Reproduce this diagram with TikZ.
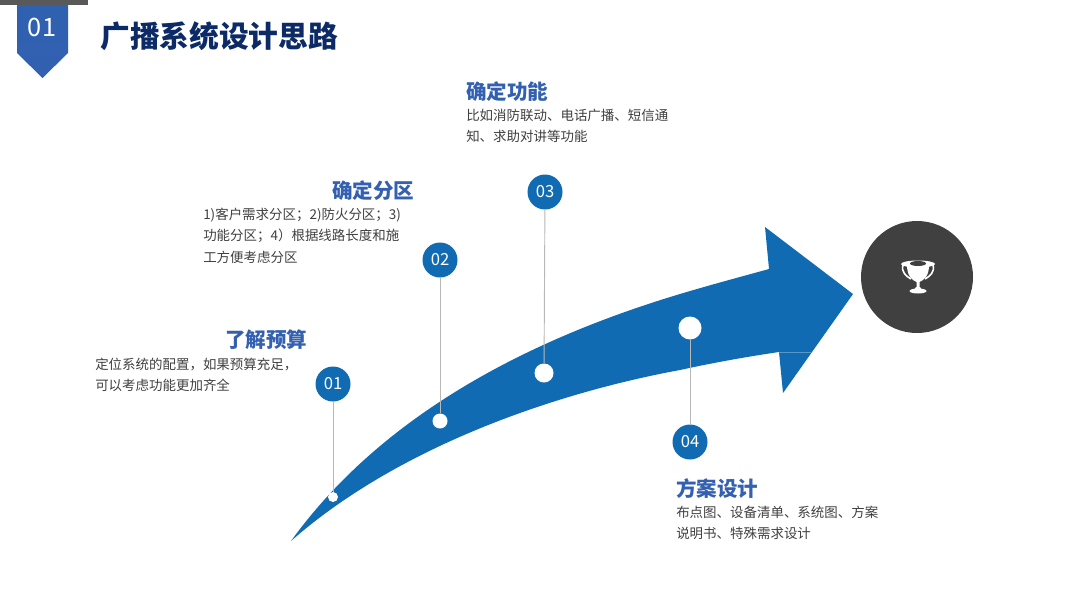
\documentclass[tikz,border=0pt]{standalone}
\usepackage{fontspec}
\usepackage{xcolor}
\setmainfont{Noto Sans CJK SC}
\usetikzlibrary{positioning, calc}

\definecolor{arrowblue}{HTML}{116BB2}
\definecolor{headblue}{HTML}{3360B0}
\definecolor{titlenavy}{HTML}{0B2A66}
\definecolor{bodygray}{HTML}{404040}
\definecolor{cupgray}{HTML}{404040}

\begin{document}
\begin{tikzpicture}[
    x=0.75pt, y=-0.75pt,
    badge/.style={circle, fill=arrowblue, text=white, minimum size=26.25pt, inner sep=0pt, font=\fontsize{12.5pt}{14pt}\selectfont},
    dot/.style={circle, fill=white, inner sep=0pt},
    heading/.style={anchor=west, inner sep=0pt, text=headblue, font=\fontsize{15.4pt}{18pt}\selectfont\bfseries},
    body/.style={anchor=north west, inner sep=0pt, align=left, text=bodygray, font=\fontsize{10.1pt}{15.9pt}\selectfont},
    stem/.style={draw=black!28, line width=0.7pt}
]
\useasboundingbox (0,0) rectangle (1080,608);
\fill[white] (0,0) rectangle (1080,608);

% header
\fill[black!65] (0,0) rectangle (88,5);
\path[top color=headblue!85!arrowblue, bottom color=headblue] (17,5) -- (68,5) -- (68,53) -- (42.5,78) -- (17,53) -- cycle;
\node[text=white, inner sep=0pt, font=\fontsize{19pt}{22pt}\selectfont] (num) at (42,27) {01};
\node[anchor=west, inner sep=0pt, text=titlenavy, font=\fontsize{22.3pt}{26pt}\selectfont\bfseries] (title) at (100,36) {广播系统设计思路};

% arrow
\fill[arrowblue] (291,541)
    .. controls (375,425) and (510,345) .. (680,294)
    .. controls (710,285) and (740,277) .. (769,269)
    -- (765,227) -- (853,294) -- (783,393) -- (779,352)
    .. controls (745,357) and (712,363) .. (680,370)
    .. controls (560,392) and (400,445) .. (291,541) -- cycle;
\draw[arrowblue!70!white, line width=0.5pt] (779,352) -- (811,352);

% dots
\node[dot, minimum size=7.5pt] (dotA) at (333,497) {};
\node[dot, minimum size=11.25pt] (dotB) at (440,421) {};
\node[dot, minimum size=14.25pt] (dotC) at (544,373) {};
\node[dot, minimum size=17.25pt] (dotD) at (690,328) {};

% badges
\node[badge] (stepA) at (333,384) {01};
\node[badge] (stepB) at (440,260) {02};
\node[badge] (stepC) at (545,192) {03};
\node[badge] (stepD) at (690,442) {04};

\draw[stem] (stepA) -- (dotA);
\draw[stem] (stepB) -- (dotB);
\draw[stem] (stepC) -- (dotC);
\draw[stem] (stepD) -- (dotD);

% texts
\node[heading] (headA) at (225,340) {了解预算};
\node[body] (bodyA) at (95,358) {定位系统的配置^^^^ff0c如果预算充足^^^^ff0c\\可以考虑功能更加齐全};
\node[heading] (headB) at (332,191) {确定分区};
\node[body] (bodyB) at (203,208) {1)客户需求分区^^^^ff1b2)防火分区^^^^ff1b3)\\功能分区^^^^ff1b4^^^^ff09根据线路长度和施\\工方便考虑分区};
\node[heading] (headC) at (466,92) {确定功能};
\node[body] (bodyC) at (466,109) {比如消防联动、电话广播、短信通\\知、求助对讲等功能};
\node[heading] (headD) at (676,489) {方案设计};
\node[body] (bodyD) at (676,506) {布点图、设备清单、系统图、方案\\说明书、特殊需求设计};

% trophy
\node[circle, fill=cupgray, minimum size=84pt, inner sep=0pt] (goal) at (917,277) {};
\draw[white, line width=1.2pt] (903,265) .. controls (901,272) and (906,276) .. (911,279);
\draw[white, line width=1.2pt] (933,265) .. controls (935,272) and (930,276) .. (925,279);
\fill[white] (918,264) ellipse (17 and 3.5);
\fill[white] (907,265) -- (929,265) .. controls (929,276) and (924,280) .. (919.5,282)
    -- (919.5,287) -- (916.5,287) -- (916.5,282)
    .. controls (912,280) and (907,276) .. cycle;
\fill[cupgray] (918,263.5) ellipse (8 and 2.5);
\fill[white] (918,291) ellipse (8.5 and 2.5);
\fill[white] (916,287) -- (920,287) -- (922,290) -- (914,290) -- cycle;
\end{tikzpicture}
\end{document}
